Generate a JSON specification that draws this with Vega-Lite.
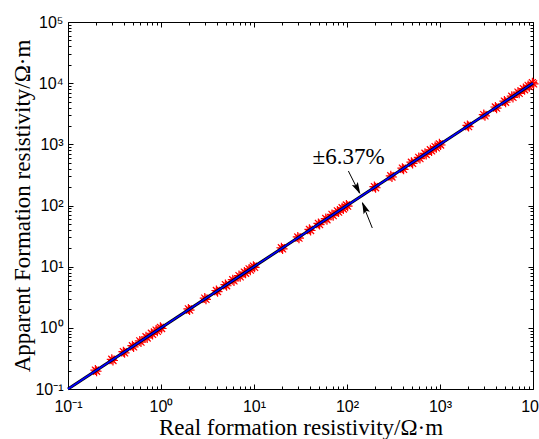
{
  "$schema": "https://vega.github.io/schema/vega-lite/v6.json",
  "autosize": {"type": "none"},
  "padding": {"left": 68, "top": 22, "right": 6, "bottom": 50},
  "width": 465,
  "height": 367,
  "background": "white",
  "config": {
    "view": {"stroke": null},
    "axis": {
      "grid": false,
      "domainColor": "black",
      "tickColor": "black",
      "labelColor": "black",
      "labelFont": "Liberation Sans",
      "labelFontSize": 16,
      "titleFont": "Liberation Serif",
      "titleFontSize": 23,
      "titleFontWeight": "normal",
      "titleColor": "black",
      "labelOverlap": false,
      "labelFlush": false,
      "labelBound": false
    }
  },
  "datasets": {
    "line": [{"x": 0.1, "y": 0.1}, {"x": 10000, "y": 10000}],
    "pts": [
      {"x": 0.197, "y": 0.204}, {"x": 0.203, "y": 0.195},
      {"x": 0.2955, "y": 0.306}, {"x": 0.3045, "y": 0.2925},
      {"x": 0.394, "y": 0.408}, {"x": 0.406, "y": 0.39},
      {"x": 0.4925, "y": 0.51}, {"x": 0.5075, "y": 0.4875},
      {"x": 0.591, "y": 0.612}, {"x": 0.609, "y": 0.585},
      {"x": 0.6895, "y": 0.714}, {"x": 0.7105, "y": 0.6825},
      {"x": 0.788, "y": 0.816}, {"x": 0.812, "y": 0.78},
      {"x": 0.8865, "y": 0.918}, {"x": 0.9135, "y": 0.8775},
      {"x": 0.985, "y": 1.02}, {"x": 1.015, "y": 0.975},
      {"x": 1.97, "y": 2.04}, {"x": 2.03, "y": 1.95},
      {"x": 2.955, "y": 3.06}, {"x": 3.045, "y": 2.925},
      {"x": 3.94, "y": 4.08}, {"x": 4.06, "y": 3.9},
      {"x": 4.925, "y": 5.1}, {"x": 5.075, "y": 4.875},
      {"x": 5.91, "y": 6.12}, {"x": 6.09, "y": 5.85},
      {"x": 6.895, "y": 7.14}, {"x": 7.105, "y": 6.825},
      {"x": 7.88, "y": 8.16}, {"x": 8.12, "y": 7.8},
      {"x": 8.865, "y": 9.18}, {"x": 9.135, "y": 8.775},
      {"x": 9.85, "y": 10.2}, {"x": 10.15, "y": 9.75},
      {"x": 19.7, "y": 20.4}, {"x": 20.3, "y": 19.5},
      {"x": 29.55, "y": 30.6}, {"x": 30.45, "y": 29.25},
      {"x": 39.4, "y": 40.8}, {"x": 40.6, "y": 39},
      {"x": 49.25, "y": 51}, {"x": 50.75, "y": 48.75},
      {"x": 59.1, "y": 61.2}, {"x": 60.9, "y": 58.5},
      {"x": 68.95, "y": 71.4}, {"x": 71.05, "y": 68.25},
      {"x": 78.8, "y": 81.6}, {"x": 81.2, "y": 78},
      {"x": 88.65, "y": 91.8}, {"x": 91.35, "y": 87.75},
      {"x": 98.5, "y": 102}, {"x": 101.5, "y": 97.5},
      {"x": 197, "y": 204}, {"x": 203, "y": 195},
      {"x": 295.5, "y": 306}, {"x": 304.5, "y": 292.5},
      {"x": 394, "y": 408}, {"x": 406, "y": 390},
      {"x": 492.5, "y": 510}, {"x": 507.5, "y": 487.5},
      {"x": 591, "y": 612}, {"x": 609, "y": 585},
      {"x": 689.5, "y": 714}, {"x": 710.5, "y": 682.5},
      {"x": 788, "y": 816}, {"x": 812, "y": 780},
      {"x": 886.5, "y": 918}, {"x": 913.5, "y": 877.5},
      {"x": 985, "y": 1020}, {"x": 1015, "y": 975},
      {"x": 1970, "y": 2040}, {"x": 2030, "y": 1950},
      {"x": 2955, "y": 3060}, {"x": 3045, "y": 2925},
      {"x": 3940, "y": 4080}, {"x": 4060, "y": 3900},
      {"x": 4925, "y": 5100}, {"x": 5075, "y": 4875},
      {"x": 5910, "y": 6120}, {"x": 6090, "y": 5850},
      {"x": 6895, "y": 7140}, {"x": 7105, "y": 6825},
      {"x": 7880, "y": 8160}, {"x": 8120, "y": 7800},
      {"x": 8865, "y": 9180}, {"x": 9135, "y": 8775},
      {"x": 9850, "y": 10200}, {"x": 10150, "y": 9750}
    ],
    "arrows": [
      {"x": 103.5, "y": 366, "x2": 136, "y2": 160},
      {"x": 187, "y": 42.9, "x2": 146, "y2": 110}
    ],
    "heads": [
      {"x": 130, "y": 187, "angle": 153},
      {"x": 154, "y": 93, "angle": 338}
    ],
    "label": [{"x": 104, "y": 621, "text": "±6.37%"}]
  },
  "resolve": {"axis": {"x": "independent", "y": "independent"}},
  "layer": [
    {
      "data": {"name": "pts"},
      "mark": {
        "type": "point",
        "shape": "M-1,0L1,0M0,-1L0,1M-0.7,-0.7L0.7,0.7M-0.7,0.7L0.7,-0.7",
        "filled": false,
        "stroke": "#ff0000",
        "strokeWidth": 1.2,
        "size": 100,
        "opacity": 1,
        "clip": false
      },
      "encoding": {
        "x": {"field": "x", "type": "quantitative", "scale": {"type": "log", "domain": [0.1, 10000]}, "axis": null},
        "y": {"field": "y", "type": "quantitative", "scale": {"type": "log", "domain": [0.1, 100000]}, "axis": null}
      }
    },
    {
      "data": {"name": "line"},
      "mark": {"type": "line", "color": "black", "strokeWidth": 3},
      "encoding": {
        "x": {
          "field": "x", "type": "quantitative",
          "axis": {
            "orient": "bottom",
            "title": "Real formation resistivity/Ω·m",
            "values": [0.1,0.2,0.3,0.4,0.5,0.6,0.7,0.8,0.9,1,2,3,4,5,6,7,8,9,10,20,30,40,50,60,70,80,90,100,200,300,400,500,600,700,800,900,1000,2000,3000,4000,5000,6000,7000,8000,9000,10000],
            "labelExpr": "abs(log(datum.value)/LN10 - round(log(datum.value)/LN10)) < 0.001 ? ['10⁻¹','10⁰','10¹','10²','10³','10⁴','10⁵'][round(log(datum.value)/LN10)+1] : ''",
            "tickSize": {"condition": {"test": "abs(log(datum.value)/LN10 - round(log(datum.value)/LN10)) < 0.001", "value": -5}, "value": -3},
            "labelPadding": 14,
            "titlePadding": 0
          }
        },
        "y": {
          "field": "y", "type": "quantitative",
          "axis": {
            "orient": "left",
            "title": "Apparent Formation resistivity/Ω·m",
            "values": [0.1,0.2,0.3,0.4,0.5,0.6,0.7,0.8,0.9,1,2,3,4,5,6,7,8,9,10,20,30,40,50,60,70,80,90,100,200,300,400,500,600,700,800,900,1000,2000,3000,4000,5000,6000,7000,8000,9000,10000,20000,30000,40000,50000,60000,70000,80000,90000,100000],
            "labelExpr": "abs(log(datum.value)/LN10 - round(log(datum.value)/LN10)) < 0.001 ? ['10⁻¹','10⁰','10¹','10²','10³','10⁴','10⁵'][round(log(datum.value)/LN10)+1] : ''",
            "tickSize": {"condition": {"test": "abs(log(datum.value)/LN10 - round(log(datum.value)/LN10)) < 0.001", "value": -5}, "value": -3},
            "labelPadding": 10,
            "titlePadding": 0
          }
        }
      }
    },
    {
      "data": {"name": "line"},
      "mark": {"type": "line", "color": "#0000ff", "strokeWidth": 1.6},
      "encoding": {
        "x": {
          "field": "x", "type": "quantitative",
          "axis": {
            "orient": "top",
            "title": null,
            "labels": false,
            "values": [0.1,0.2,0.3,0.4,0.5,0.6,0.7,0.8,0.9,1,2,3,4,5,6,7,8,9,10,20,30,40,50,60,70,80,90,100,200,300,400,500,600,700,800,900,1000,2000,3000,4000,5000,6000,7000,8000,9000,10000],
            "tickSize": {"condition": {"test": "abs(log(datum.value)/LN10 - round(log(datum.value)/LN10)) < 0.001", "value": -5}, "value": -3}
          }
        },
        "y": {
          "field": "y", "type": "quantitative",
          "axis": {
            "orient": "right",
            "title": null,
            "labels": false,
            "values": [0.1,0.2,0.3,0.4,0.5,0.6,0.7,0.8,0.9,1,2,3,4,5,6,7,8,9,10,20,30,40,50,60,70,80,90,100,200,300,400,500,600,700,800,900,1000,2000,3000,4000,5000,6000,7000,8000,9000,10000,20000,30000,40000,50000,60000,70000,80000,90000,100000],
            "tickSize": {"condition": {"test": "abs(log(datum.value)/LN10 - round(log(datum.value)/LN10)) < 0.001", "value": -5}, "value": -3}
          }
        }
      }
    },
    {
      "data": {"name": "arrows"},
      "mark": {"type": "rule", "color": "black", "strokeWidth": 1},
      "encoding": {
        "x": {"field": "x", "type": "quantitative", "axis": null},
        "y": {"field": "y", "type": "quantitative", "axis": null},
        "x2": {"field": "x2"},
        "y2": {"field": "y2"}
      }
    },
    {
      "data": {"name": "heads"},
      "mark": {
        "type": "point",
        "shape": "M0,-1L0.55,1L0,0.6L-0.55,1Z",
        "filled": true,
        "color": "black",
        "opacity": 1,
        "size": 150
      },
      "encoding": {
        "x": {"field": "x", "type": "quantitative", "axis": null},
        "y": {"field": "y", "type": "quantitative", "axis": null},
        "angle": {"field": "angle", "type": "quantitative", "scale": null}
      }
    },
    {
      "data": {"name": "label"},
      "mark": {"type": "text", "font": "Liberation Serif", "fontSize": 23, "color": "black", "align": "center", "baseline": "middle"},
      "encoding": {
        "x": {"field": "x", "type": "quantitative", "axis": null},
        "y": {"field": "y", "type": "quantitative", "axis": null},
        "text": {"field": "text"}
      }
    }
  ]
}
